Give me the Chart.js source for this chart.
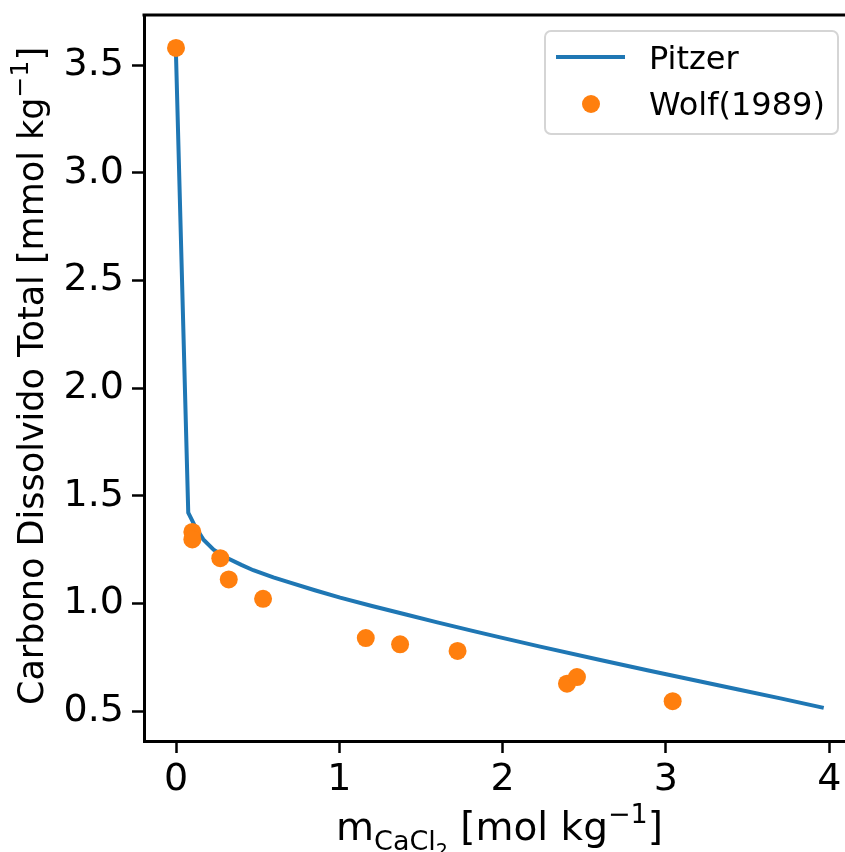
<!DOCTYPE html>
<html>
<head>
<meta charset="utf-8">
<script src="https://cdn.jsdelivr.net/npm/chart.js@4.4.1/dist/chart.umd.min.js"></script>
<style>
  html, body { margin: 0; padding: 0; background: #fff; overflow: hidden; }
  #wrap { position: absolute; left: 0; top: 0; width: 860px; height: 852px; }
</style>
</head>
<body>
<div id="wrap"><canvas id="c" width="860" height="852"></canvas></div>
<script>
// Pitzer model curve
const pitzerX = [0, 0.075, 0.116, 0.167, 0.23, 0.31, 0.40, 0.473, 0.596, 0.699, 0.85, 1.005, 1.2, 1.414, 1.6, 1.822, 1.985, 2.23, 2.598, 2.9, 3.211, 3.45, 3.701, 3.966];
const pitzerY = [3.546, 1.422, 1.36, 1.298, 1.25, 1.213, 1.18, 1.155, 1.122, 1.097, 1.062, 1.028, 0.989, 0.948, 0.913, 0.872, 0.843, 0.800, 0.738, 0.688, 0.638, 0.600, 0.560, 0.516];
// Wolf (1989) experimental points
const wolfX = [0, 0.10, 0.10, 0.271, 0.323, 0.533, 1.162, 1.372, 1.724, 2.394, 2.455, 3.041];
const wolfY = [3.58, 1.333, 1.298, 1.211, 1.112, 1.022, 0.840, 0.811, 0.780, 0.628, 0.659, 0.547];
// tick labels
const xTicks = [0, 1, 2, 3, 4];
const yTicks = [0.5, 1.0, 1.5, 2.0, 2.5, 3.0, 3.5];
const seriesNames = ['Pitzer', 'Wolf(1989)'];

const FONT = 'DejaVu Sans';
const BLUE = '#1f77b4';
const ORANGE = '#ff7f0e';

function drawSegments(ctx, segs, x, y, align) {
  let total = 0;
  segs.forEach(sg => { ctx.font = sg.s + 'px "' + FONT + '"'; sg.w = ctx.measureText(sg.t).width; total += sg.w; });
  let cx = align === 'center' ? x - total / 2 : x;
  segs.forEach(sg => {
    ctx.font = sg.s + 'px "' + FONT + '"';
    ctx.fillText(sg.t, cx, y + (sg.dy || 0));
    cx += sg.w;
  });
}

const decor = {
  id: 'decor',
  afterDraw(chart) {
    const ctx = chart.ctx;
    const a = chart.chartArea;
    ctx.save();
    // top spine (right spine lies outside the visible window)
    ctx.strokeStyle = '#000';
    ctx.lineWidth = 3;
    ctx.beginPath();
    ctx.moveTo(a.left - 1.5, a.top);
    ctx.lineTo(chart.width, a.top);
    ctx.stroke();

    // legend
    const bw = 293, bh = 103;
    const bx = a.right - 13 - bw, by = a.top + 16;
    ctx.beginPath();
    ctx.roundRect(bx, by, bw, bh, 6);
    ctx.fillStyle = 'rgba(255,255,255,0.8)';
    ctx.fill();
    ctx.strokeStyle = '#d5d5d5';
    ctx.lineWidth = 2;
    ctx.stroke();

    ctx.strokeStyle = BLUE;
    ctx.lineWidth = 4;
    ctx.beginPath();
    ctx.moveTo(bx + 11, by + 26);
    ctx.lineTo(bx + 80, by + 26);
    ctx.stroke();
    ctx.fillStyle = ORANGE;
    ctx.beginPath();
    ctx.arc(bx + 46, by + 73, 9, 0, Math.PI * 2);
    ctx.fill();

    ctx.fillStyle = '#000';
    ctx.textBaseline = 'alphabetic';
    ctx.textAlign = 'left';
    ctx.font = '32px "' + FONT + '"';
    ctx.fillText(seriesNames[0], bx + 104, by + 38);
    ctx.fillText(seriesNames[1], bx + 104, by + 84);

    // x title
    drawSegments(ctx, [
      { t: 'm', s: 39 },
      { t: 'CaCl', s: 27, dy: 10 },
      { t: '2', s: 19, dy: 17 },
      { t: ' [mol kg', s: 39 },
      { t: '\u22121', s: 27, dy: -17 },
      { t: ']', s: 39 }
    ], (a.left + a.right) / 2 + 2, 840, 'center');

    // y title
    ctx.translate(43, (a.top + a.bottom) / 2 - 2);
    ctx.rotate(-Math.PI / 2);
    drawSegments(ctx, [
      { t: 'Carbono Dissolvido Total [mmol kg', s: 35 },
      { t: '\u22121', s: 25, dy: -15 },
      { t: ']', s: 35 }
    ], 0, 0, 'center');
    ctx.restore();
  }
};

const axisCommon = {
  type: 'linear',
  grid: { display: true, drawOnChartArea: false, drawTicks: true, tickLength: 12, tickWidth: 2.5, tickColor: '#000' },
  border: { display: true, color: '#000', width: 3 },
  title: { display: false }
};

new Chart(document.getElementById('c'), {
  type: 'scatter',
  data: {
    datasets: [
      {
        label: seriesNames[1],
        data: wolfX.map((x, i) => ({ x: x, y: wolfY[i] })),
        showLine: false,
        pointRadius: 9,
        pointHoverRadius: 9,
        pointBackgroundColor: ORANGE,
        pointBorderWidth: 0,
        order: 0
      },
      {
        label: seriesNames[0],
        data: pitzerX.map((x, i) => ({ x: x, y: pitzerY[i] })),
        showLine: true,
        borderColor: BLUE,
        borderWidth: 4,
        pointRadius: 0,
        tension: 0,
        fill: false,
        order: 1
      }
    ]
  },
  options: {
    responsive: false,
    animation: false,
    layout: { padding: { top: 15, right: 2, left: 0, bottom: 0 } },
    plugins: { legend: { display: false }, tooltip: { enabled: false } },
    scales: {
      x: Object.assign({}, axisCommon, {
        min: -0.196, max: 4.133,
        afterBuildTicks: s => { s.ticks = xTicks.map(v => ({ value: v })); },
        afterFit: s => { s.height = 111; s.paddingLeft = 0; s.paddingRight = 0; s.paddingTop = 0; s.paddingBottom = 0; },
        ticks: { font: { family: FONT, size: 38 }, color: '#000', padding: 4, maxRotation: 0, autoSkip: false, callback: v => String(v) }
      }),
      y: Object.assign({}, axisCommon, {
        min: 0.362, max: 3.733,
        afterBuildTicks: s => { s.ticks = yTicks.map(v => ({ value: v })); },
        afterFit: s => { s.width = 144; s.paddingLeft = 0; s.paddingRight = 0; s.paddingTop = 0; s.paddingBottom = 0; },
        ticks: { font: { family: FONT, size: 38 }, color: '#000', padding: 8, autoSkip: false, callback: v => Number(v).toFixed(1) }
      })
    }
  },
  plugins: [decor]
});
</script>
</body>
</html>
